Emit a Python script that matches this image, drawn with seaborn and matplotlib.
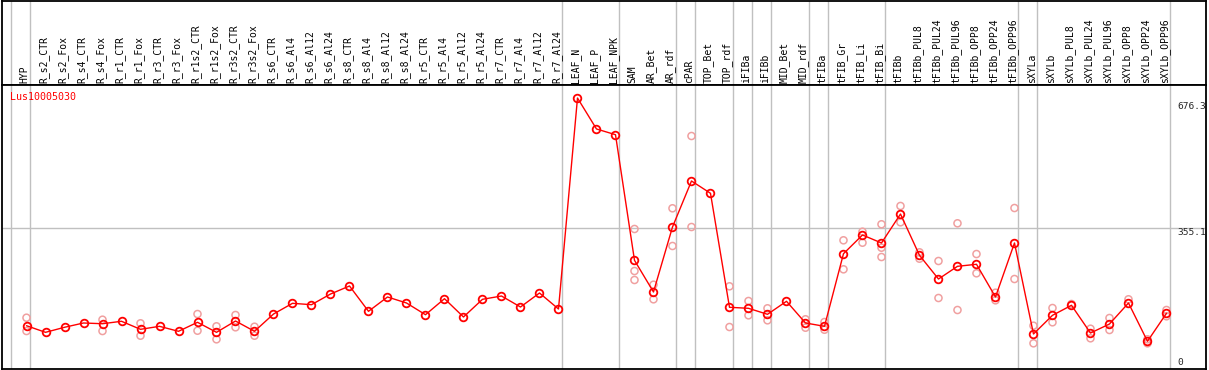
import pandas as pd
import seaborn as sns
import matplotlib.pyplot as plt

# ---------------------------------------------------------------
# Data
# ---------------------------------------------------------------
gene = "Lus10005030"

samples = [
    "HYP", "R_s2_CTR", "R_s2_Fox", "R_s4_CTR", "R_s4_Fox", "R_r1_CTR", "R_r1_Fox",
    "R_r3_CTR", "R_r3_Fox", "R_r1s2_CTR", "R_r1s2_Fox", "R_r3s2_CTR", "R_r3s2_Fox",
    "R_s6_CTR", "R_s6_Al4", "R_s6_Al12", "R_s6_Al24", "R_s8_CTR", "R_s8_Al4",
    "R_s8_Al12", "R_s8_Al24", "R_r5_CTR", "R_r5_Al4", "R_r5_Al12", "R_r5_Al24",
    "R_r7_CTR", "R_r7_Al4", "R_r7_Al12", "R_r7_Al24", "LEAF_N", "LEAF_P", "LEAF_NPK",
    "SAM", "AR_Bet", "AR_rdf", "cPAR", "TOP_Bet", "TOP_rdf", "iFIBa", "iFIBb",
    "MID_Bet", "MID_rdf", "tFIBa", "tFIB_Gr", "tFIB_Li", "tFIB_Bi", "tFIBb",
    "tFIBb_PUL8", "tFIBb_PUL24", "tFIBb_PUL96", "tFIBb_OPP8", "tFIBb_OPP24",
    "tFIBb_OPP96", "sXYLa", "sXYLb", "sXYLb_PUL8", "sXYLb_PUL24", "sXYLb_PUL96",
    "sXYLb_OPP8", "sXYLb_OPP24", "sXYLb_OPP96",
]

mean_values = [
    115.1, 98.8, 111.2, 121.8, 120.0, 126.0, 106.2, 113.6, 101.3, 123.5, 98.8,
    126.7, 101.3, 143.9, 170.3, 166.9, 193.2, 213.0, 150.6, 185.9, 171.1, 142.2,
    181.7, 136.6, 180.2, 188.3, 161.2, 195.7, 156.3, 676.3, 600.0, 585.9,
    276.3, 198.2, 358.4, 471.8, 441.5, 160.5, 158.0, 143.2, 175.3, 121.8, 113.6,
    292.6, 338.7, 319.0, 390.4, 288.6, 230.2, 261.5, 266.5, 185.9, 319.0,
    94.7, 140.7, 165.4, 97.1, 119.3, 171.1, 76.7, 145.7,
]

# individual replicates (only the ones visible apart from the mean)
rep_names = [
    "HYP", "HYP", "R_s4_Fox", "R_s4_Fox", "R_r1_Fox", "R_r1_Fox",
    "R_r1s2_CTR", "R_r1s2_CTR", "R_r1s2_Fox", "R_r1s2_Fox",
    "R_r3s2_CTR", "R_r3s2_CTR", "R_r3s2_Fox", "R_r3s2_Fox",
    "SAM", "SAM", "SAM", "AR_Bet", "AR_Bet", "AR_rdf", "AR_rdf", "cPAR", "cPAR",
    "TOP_rdf", "TOP_rdf", "iFIBa", "iFIBa", "iFIBb", "iFIBb", "MID_rdf", "MID_rdf",
    "tFIBa", "tFIBa", "tFIB_Gr", "tFIB_Gr", "tFIB_Li", "tFIB_Li",
    "tFIB_Bi", "tFIB_Bi", "tFIB_Bi", "tFIBb", "tFIBb",
    "tFIBb_PUL8", "tFIBb_PUL8", "tFIBb_PUL24", "tFIBb_PUL24",
    "tFIBb_PUL96", "tFIBb_PUL96", "tFIBb_OPP8", "tFIBb_OPP8",
    "tFIBb_OPP24", "tFIBb_OPP24", "tFIBb_OPP96", "tFIBb_OPP96",
    "sXYLa", "sXYLa", "sXYLb", "sXYLb", "sXYLb_PUL8",
    "sXYLb_PUL24", "sXYLb_PUL24", "sXYLb_PUL96", "sXYLb_PUL96",
    "sXYLb_OPP8", "sXYLb_OPP24", "sXYLb_OPP24", "sXYLb_OPP96", "sXYLb_OPP96",
]
rep_values = [
    134.8, 102.0, 129.9, 102.0, 121.0, 90.5,
    143.9, 102.8, 113.6, 81.6,
    141.5, 111.2, 112.6, 90.5,
    353.5, 249.9, 227.8, 216.2, 180.2, 404.5, 311.6, 582.7, 358.4,
    212.2, 111.9, 176.0, 140.7, 158.0, 128.4, 130.9, 110.2,
    124.2, 105.2, 325.6, 254.1, 346.8, 319.7,
    365.1, 307.4, 284.4, 410.2, 370.0,
    296.0, 280.3, 274.6, 183.4,
    367.5, 153.8, 291.8, 244.3,
    196.4, 177.7, 405.2, 230.2,
    115.1, 71.7, 158.7, 123.5, 168.6,
    107.7, 84.1, 134.1, 104.5,
    180.2, 81.6, 71.7, 153.8, 138.3,
]

# last sample of each tissue group -> grey separator drawn after it
group_ends = ["HYP", "R_r7_Al24", "LEAF_NPK", "AR_rdf", "cPAR", "TOP_rdf", "iFIBa",
              "iFIBb", "MID_rdf", "tFIBa", "tFIB_Bi", "tFIBb_OPP96", "sXYLa",
              "sXYLb_OPP96"]

y_marks = [676.3, 355.1, 0]

# ---------------------------------------------------------------
# Tables
# ---------------------------------------------------------------
pos = {name: i for i, name in enumerate(samples)}
df = pd.DataFrame({"sample": samples, "value": mean_values})
df["pos"] = df["sample"].map(pos)
reps = pd.DataFrame({"sample": rep_names, "value": rep_values})
reps["pos"] = reps["sample"].map(pos)

# ---------------------------------------------------------------
# Figure
# ---------------------------------------------------------------
sns.set_style("white")
plt.rcParams["font.family"] = ["DejaVu Sans Mono", "DejaVu Sans"]

W, H = 1209, 370
fig = plt.figure(figsize=(W / 100, H / 100), dpi=100)
ax_head = fig.add_axes([1.5 / W, 1 - 85 / H, 1204.5 / W, 84.5 / H])
ax = fig.add_axes([1.5 / W, 1 / H, 1204.5 / W, 284 / H], sharex=ax_head)

ax.set_xlim(-1.316, 62.08)
ax.set_ylim(8.4, 708.4)
ax_head.set_ylim(0, 1)

sep = [pos[n] + 0.2 for n in group_ends] + [-0.8]
for a in (ax, ax_head):
    for x in sep:
        a.axvline(x, color="#c0c0c0", lw=1.0, zorder=0)
    a.set_xticks([])
    a.set_yticks([])
    for s in a.spines.values():
        s.set_color("black")
        s.set_linewidth(1.3)

ax.axhline(y_marks[1], color="#c0c0c0", lw=1.0, zorder=0)

# sample names in the header band
for name, x in pos.items():
    ax_head.text(x - 0.1, 0.02, name, rotation=90, ha="center", va="bottom",
                 fontsize=7, color="black")

# replicates and mean profile
sns.scatterplot(data=reps, x="pos", y="value", ax=ax, marker="o",
                facecolor="none", edgecolor="#f0a0a0", s=26, linewidth=1.1,
                zorder=2, legend=False)
sns.lineplot(data=df, x="pos", y="value", ax=ax, color="red", linewidth=1,
             marker="o", markersize=5.5, markerfacecolor="none",
             markeredgecolor="red", markeredgewidth=1.3, zorder=3)
ax.set_xlabel("")
ax.set_ylabel("")

# value scale on the right
xr = (1177 - 26.5) / 19
ax.text(xr, y_marks[0] - 21, f"{y_marks[0]:.1f}", fontsize=6.8, va="center", ha="left", zorder=1)
ax.text(xr, y_marks[1] - 10, f"{y_marks[1]:.1f}", fontsize=6.8, va="center", ha="left", zorder=1)
ax.text(xr, 25.6, f"{y_marks[2]:g}", fontsize=6.8, va="center", ha="left", zorder=1)

ax.text(0.007, 0.958, gene, transform=ax.transAxes, color="red", fontsize=7.2,
        ha="left", va="center")

fig.savefig("out.png", dpi=100)
